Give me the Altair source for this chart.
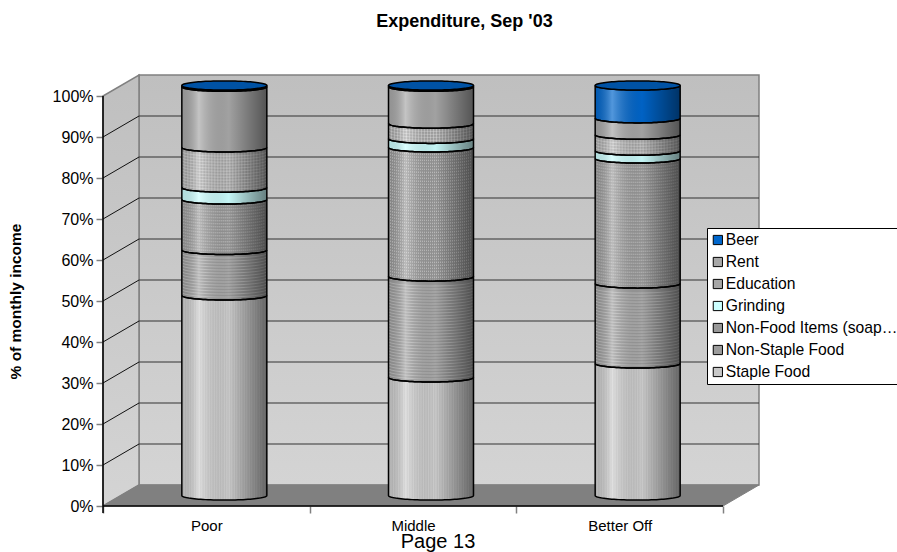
import math
import altair as alt
import pandas as pd

# Share of monthly income per spending category, bottom of the stack first
groups = ["Poor", "Middle", "Better Off"]
series = ["Staple Food", "Non-Staple Food", "Non-Food Items (soap, etc.)",
          "Grinding", "Education", "Rent", "Beer"]
poor = [48.8, 11.1, 12.3, 2.9, 9.8, 14.8, 0.3]
middle = [28.8, 24.6, 31.5, 2.1, 3.7, 9.0, 0.3]
better_off = [32.2, 19.5, 30.5, 1.9, 3.9, 4.0, 8.0]
swatches = ["#c8c8c8", "#9c9c9c", "#989898", "#ccffff", "#a6a6a6", "#a8a8a8", "#0066cc"]
percent_ticks = list(range(0, 101, 10))

FONT = "Liberation Sans"
W, H, TOP = 897, 552, 35
X0, Y0 = 103, 506          # pixel position of the front-left floor corner
PX_X, PX_Y = 620 / 3, 4.1  # pixels per category, pixels per percentage point
DX, DY = 36 / PX_X, 21 / PX_Y  # depth offset of the back wall
RX, RY = 42.5 / PX_X, 4.6 / PX_Y  # cylinder ellipse semi-axes

xscale = alt.Scale(domain=[-X0 / PX_X, (W - X0) / PX_X], range=[0, W], nice=False, zero=False)
yscale = alt.Scale(domain=[(Y0 - H) / PX_Y, (Y0 - TOP) / PX_Y], range=[H - TOP, 0], nice=False, zero=False)

# The same axis definitions go on every layer so they merge into one pair of axes
label_expr = "[" + ",".join(f"'{g}'" for g in groups) + ",''][datum.value]"
xaxis = alt.Axis(
    values=[0, 1, 2, 3], labelExpr=label_expr,
    labelOffset=PX_X / 2, offset=-(H - Y0), tickSize=7, tickColor="#808080", tickWidth=1.5,
    domain=False, grid=False, title=None, labelFont=FONT, labelFontSize=15, labelPadding=5,
    labelColor="#000000", labelOverlap=False, labelFlush=False)
yaxis = alt.Axis(
    values=percent_ticks, labelExpr="datum.value + '%'", offset=-X0, tickSize=7,
    tickColor="#808080", tickWidth=1.5, domain=False, grid=False,
    title="% of monthly income", titleFont=FONT, titleFontSize=15.5, titleFontWeight="bold",
    titleColor="#000000", titleX=23 - X0, titleY=301 - TOP, titleAngle=270,
    labelFont=FONT, labelFontSize=16, labelPadding=3, labelColor="#000000", labelOverlap=False)
X = alt.X("x:Q", scale=xscale, axis=xaxis)
Y = alt.Y("y:Q", scale=yscale, axis=yaxis)


def arc(t):
    return RY * math.sqrt(max(0.0, 1 - t * t))


def samples(n=48):
    return [-math.cos(math.pi * i / n) for i in range(n + 1)]


segments, ellipses, vert, horiz = [], [], [], []
for g, vals in enumerate([poor, middle, better_off]):
    cx = g + 0.5 + DX / 2
    lo = DY / 2
    for s, v in enumerate(vals):
        hi = lo + v
        sid = f"{g}-{s}"
        for t in samples():
            segments.append({"x": cx + RX * t, "y": lo - arc(t), "y2": hi - arc(t),
                             "series": series[s], "seg": sid})
        # hatching lines that follow the front of the cylinder
        kind = series[s]
        step_v = {"Staple Food": 2.5, "Education": 3, "Non-Food Items (soap, etc.)": 2}.get(kind)
        if step_v:
            for i in range(1, int(2 * RX * PX_X / step_v)):
                t = -1 + i * step_v / (RX * PX_X)
                vert.append({"x": cx + RX * t, "y": lo - arc(t), "y2": hi - arc(t),
                             "kind": kind, "id": f"{sid}-{i}"})
        step_h = {"Non-Staple Food": 3, "Education": 3}.get(kind)
        if step_h:
            for j in range(1, int(v * PX_Y / step_h)):
                for t in samples(16):
                    horiz.append({"x": cx + RX * t, "y": lo + j * step_h / PX_Y - arc(t),
                                  "id": f"{sid}-{j}"})
        lo = hi
    for t in samples():
        ellipses.append({"x": cx + RX * t, "y": lo - arc(t), "y2": lo + arc(t), "id": g})

seg_df = pd.DataFrame(segments)
ell_df = pd.DataFrame(ellipses)
vert_df = pd.DataFrame(vert)
horiz_df = pd.DataFrame(horiz)

wall_fill = alt.LinearGradient(gradient="linear", x1=0, x2=0, y1=0, y2=1,
                               stops=[alt.GradientStop(color="#bfbfbf", offset=0),
                                      alt.GradientStop(color="#d4d4d4", offset=1)])
shade_fill = alt.LinearGradient(gradient="linear", x1=0, x2=1, y1=0, y2=0,
                                stops=[alt.GradientStop(color="rgba(0,0,0,0.12)", offset=0),
                                       alt.GradientStop(color="rgba(255,255,255,0.32)", offset=0.2),
                                       alt.GradientStop(color="rgba(0,0,0,0.04)", offset=0.55),
                                       alt.GradientStop(color="rgba(0,0,0,0.5)", offset=1)])

# Back wall, side wall and floor of the 3-D box
back_wall = alt.Chart(pd.DataFrame({"x": [DX], "x2": [3 + DX], "y": [DY], "y2": [100 + DY]})).mark_rect(
    fill=wall_fill, stroke="#808080", strokeWidth=1.5
).encode(x=X, x2="x2:Q", y=Y, y2="y2:Q")
side_wall = alt.Chart(pd.DataFrame({"x": [0, DX], "y": [0, DY], "y2": [100, 100 + DY]})).mark_area(
    fill=wall_fill, stroke="#808080", strokeWidth=1.5
).encode(x=X, y=Y, y2="y2:Q")
floor = alt.Chart(pd.DataFrame({"x": [0, DX, 3, 3 + DX], "y": [0, 0, 0, DY], "y2": [0, DY, DY, DY]})).mark_area(
    fill="#808080", stroke="#808080"
).encode(x=X, y=Y, y2="y2:Q")

# Gridlines run along the back wall and across the side wall
grid_back = alt.Chart(pd.DataFrame({"x": DX, "x2": 3 + DX, "y": [p + DY for p in percent_ticks[1:-1]]})).mark_rule(
    color="#333333", strokeWidth=1.2
).encode(x=X, x2="x2:Q", y=Y)
grid_side = alt.Chart(pd.DataFrame({"x": 0.0, "x2": DX, "y": [float(p) for p in percent_ticks[1:-1]],
                                    "y2": [p + DY for p in percent_ticks[1:-1]]})).mark_rule(
    color="#111111", strokeWidth=1
).encode(x=X, x2="x2:Q", y=Y, y2="y2:Q")

front_x = alt.Chart(pd.DataFrame({"x": [0.0], "x2": [3.0], "y": [0.0]})).mark_rule(
    color="#000000", strokeWidth=1.5).encode(x=X, x2="x2:Q", y=Y)
front_y = alt.Chart(pd.DataFrame({"x": [0.0], "y": [-7 / PX_Y], "y2": [100.0]})).mark_rule(
    color="#000000", strokeWidth=1.5).encode(x=X, y=Y, y2="y2:Q")

# Cylinder segments: flat colour, shading, hatching, outline
fills = alt.Chart(seg_df).mark_area().encode(
    x=X, y=Y, y2="y2:Q", detail="seg:N",
    color=alt.Color("series:N",
                    scale=alt.Scale(domain=series[::-1], range=swatches[::-1]),
                    legend=alt.Legend(orient="none", legendX=707, legendY=228 - TOP, title=None,
                                      fillColor="#ffffff", strokeColor="#000000", padding=1,
                                      symbolType="square", symbolSize=85, symbolStrokeColor="#000000",
                                      symbolStrokeWidth=1, labelFont=FONT, labelFontSize=15.7,
                                      labelColor="#000000", labelLimit=172, labelOffset=0,
                                      clipHeight=22, rowPadding=0, symbolOffset=2)),
)


def vertical_hatch(kind, color, dash, opacity):
    d = vert_df[vert_df["kind"] == kind]
    props = {"strokeDash": dash} if dash else {}
    return alt.Chart(d).mark_rule(color=color, strokeWidth=1, opacity=opacity, **props).encode(x=X, y=Y, y2="y2:Q")


hatch_staple = vertical_hatch("Staple Food", "#ffffff", None, 0.22)
hatch_nonfood = vertical_hatch("Non-Food Items (soap, etc.)", "#ffffff", [1.5, 1.5], 0.42)
hatch_edu = vertical_hatch("Education", "#ffffff", None, 0.32)
hatch_rows = alt.Chart(horiz_df).mark_line(color="#ffffff", strokeWidth=1, opacity=0.32).encode(
    x=X, y=Y, detail="id:N")
shading = alt.Chart(seg_df).mark_area(fill=shade_fill).encode(x=X, y=Y, y2="y2:Q", detail="seg:N")
outline = alt.Chart(seg_df).mark_area(fillOpacity=0, stroke="#000000", strokeWidth=1.5).encode(
    x=X, y=Y, y2="y2:Q", detail="seg:N")
tops = alt.Chart(ell_df).mark_area(fill="#0052a4", stroke="#000000", strokeWidth=1.5).encode(
    x=X, y=Y, y2="y2:Q", detail="id:N")

page = alt.Chart(pd.DataFrame({"t": ["Page 13"]})).mark_text(
    font=FONT, fontSize=20, color="#000000", align="center", baseline="alphabetic"
).encode(text="t:N", x=alt.value(438), y=alt.value(547.5 - TOP))

chart = alt.layer(
    back_wall, side_wall, floor, grid_back, grid_side, front_x, front_y,
    fills, hatch_staple, hatch_nonfood, hatch_edu, hatch_rows, shading, outline, tops, page,
).properties(
    width=W, height=H - TOP,
    title=alt.TitleParams("Expenditure, Sep '03", font=FONT, fontSize=18, fontWeight="bold",
                          color="#000000", dx=16, offset=4),
    padding={"left": 0, "right": 0, "top": TOP, "bottom": 0},
    autosize=alt.AutoSizeParams(type="none"),
    background="#ffffff",
).configure_view(stroke=None)

chart.save("out.html", embed_options={"renderer": "svg", "actions": False})
